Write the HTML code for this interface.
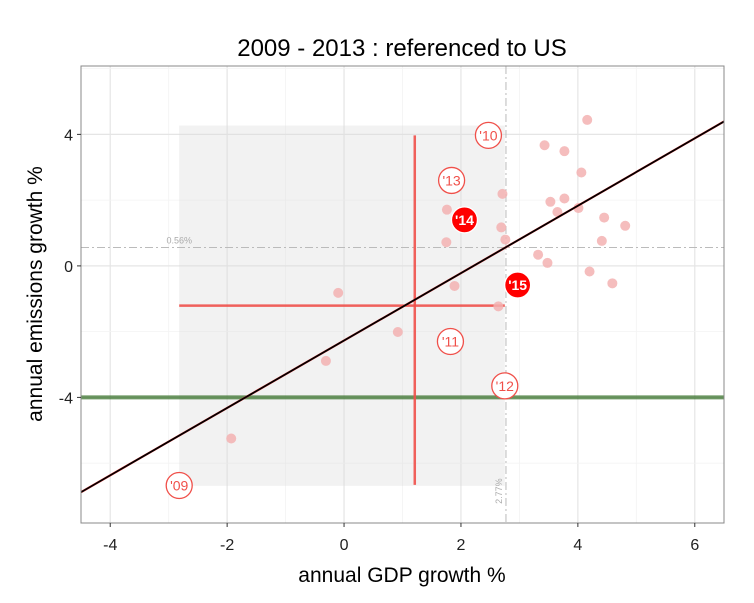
<!DOCTYPE html>
<html><head><meta charset="utf-8"><style>
body{margin:0;background:#fff}
svg{display:block;font-family:"Liberation Sans",sans-serif}
</style></head><body>
<svg id="c" width="754" height="603"></svg>
<script>
const xTicks=[-4,-2,0,2,4,6];
const yTicks=[4,0,-4];
const ptsX=[3.43,3.77,4.16,4.06,3.53,3.77,3.65,4.01,4.45,4.81,4.41,3.32,3.48,4.20,4.59,1.76,1.75,2.71,2.69,2.76,1.89,2.64,-0.10,0.92,-0.31,-1.93];
const ptsY=[3.67,3.49,4.44,2.84,1.95,2.05,1.64,1.76,1.47,1.22,0.76,0.34,0.09,-0.17,-0.53,1.71,0.72,2.19,1.17,0.80,-0.61,-1.23,-0.82,-2.01,-2.89,-5.25];
const yearLabels=["'09","'10","'11","'12","'13","'14","'15"];
const yearX=[-2.82,2.47,1.82,2.75,1.84,2.06,2.97];
const yearY=[-6.68,3.97,-2.30,-3.65,2.60,1.40,-0.58];
const yearFilled=[false,false,false,false,false,true,true];
const rangeX=[-2.82,2.75];
const rangeY=[-6.69,4.27];
const meanX=[1.21];
const meanY=[-1.21];
const crossY=[-6.66,3.97];
const targetY=[-4];
const refX=[2.77];
const refY=[0.56];
const reg=[1.025,-2.27];
const X0=-4.5,X1=6.5,Y0=-7.82,Y1=6.08;
const L=81,R=724,T=66,B=523;
const sx=v=>L+(v-X0)/(X1-X0)*(R-L);
const sy=v=>B-(v-Y0)/(Y1-Y0)*(B-T);
const svg=document.getElementById('c');
const NS='http://www.w3.org/2000/svg';
function mk(t,a,p){const e=document.createElementNS(NS,t);for(const k in a)e.setAttribute(k,a[k]);(p||svg).appendChild(e);return e;}
let e;
for(let v=-4;v<=6;v++){e=mk('line',{x1:sx(v),x2:sx(v),y1:T,y2:B,stroke:v%2==0?'#e5e5e5':'#f3f3f3','stroke-width':v%2==0?1.2:0.8});

}
for(let v=-6;v<=6;v+=2){e=mk('line',{x1:L,x2:R,y1:sy(v),y2:sy(v),stroke:v%4==0?'#e5e5e5':'#f3f3f3','stroke-width':v%4==0?1.2:0.8});

}
e=mk('rect',{x:sx(rangeX[0]),y:sy(rangeY[1]),width:sx(rangeX[1])-sx(rangeX[0]),height:sy(rangeY[0])-sy(rangeY[1]),fill:'#d9d9d9','fill-opacity':0.35});


e=mk('line',{x1:L,x2:R,y1:sy(refY[0]),y2:sy(refY[0]),stroke:'#bbb','stroke-dasharray':'8,3,2,3'});


e=mk('line',{x1:sx(refX[0]),x2:sx(refX[0]),y1:T,y2:B,stroke:'#bbb','stroke-dasharray':'8,3,2,3'});


e=mk('text',{x:sx(-2.82),y:sy(refY[0])-4,'font-size':9,fill:'#aaa','text-anchor':'middle'});e.textContent=refY[0]+'%';


e=mk('text',{x:0,y:0,'font-size':9,fill:'#aaa','text-anchor':'middle',transform:`translate(${sx(refX[0])-4},${sy(-6.85)}) rotate(-90)`});e.textContent=refX[0]+'%';


e=mk('line',{x1:L,x2:R,y1:sy(targetY[0]),y2:sy(targetY[0]),stroke:'#2e6b1f','stroke-opacity':0.7,'stroke-width':4});


e=mk('line',{x1:sx(meanX[0]),x2:sx(meanX[0]),y1:sy(crossY[1]),y2:sy(crossY[0]),stroke:'#f0504a','stroke-width':2.5,'stroke-opacity':0.9});


e=mk('line',{x1:sx(rangeX[0]),x2:sx(rangeX[1]),y1:sy(meanY[0]),y2:sy(meanY[0]),stroke:'#f0504a','stroke-width':2.5,'stroke-opacity':0.9});


for(let i=0;i<ptsX.length;i++){e=mk('circle',{cx:sx(ptsX[i]),cy:sy(ptsY[i]),r:5,fill:'#f3b1b1','fill-opacity':0.85});

}
e=mk('line',{x1:sx(X0),y1:sy(reg[0]*X0+reg[1]),x2:sx(X1),y2:sy(reg[0]*X1+reg[1]),stroke:'#e33','stroke-width':2.2});


e=mk('line',{x1:sx(X0),y1:sy(reg[0]*X0+reg[1]),x2:sx(X1),y2:sy(reg[0]*X1+reg[1]),stroke:'#000','stroke-width':1.7});


for(let i=0;i<yearLabels.length;i++){
 const f=yearFilled[i];
 e=mk('circle',{cx:sx(yearX[i]),cy:sy(yearY[i]),r:13,fill:f?'#f00':'#fff',stroke:f?'#fff':'#f0504a','stroke-width':1.3});
 
 
 e=mk('text',{x:sx(yearX[i]),y:sy(yearY[i])+5,'font-size':14,'font-weight':f?'bold':'normal',fill:f?'#fff':'#f0504a','text-anchor':'middle'});e.textContent=yearLabels[i];
 
 
}
e=mk('rect',{x:L,y:T,width:R-L,height:B-T,fill:'none',stroke:'#888','stroke-width':1});


xTicks.forEach(v=>{e=mk('line',{x1:sx(v),x2:sx(v),y1:B,y2:B+4,stroke:'#333'});


e=mk('text',{x:sx(v),y:B+27,'font-size':16,fill:'#222','text-anchor':'middle'});e.textContent=v;

});
yTicks.forEach(v=>{e=mk('line',{x1:L-4,x2:L,y1:sy(v),y2:sy(v),stroke:'#333'});


e=mk('text',{x:L-8,y:sy(v)+6,'font-size':16,fill:'#222','text-anchor':'end'});e.textContent=v;

});
e=mk('text',{x:402,y:56,'font-size':24,fill:'#000','text-anchor':'middle'});e.textContent='2009 - 2013 : referenced to US';


e=mk('text',{x:402,y:582,'font-size':21,fill:'#000','text-anchor':'middle'});e.textContent='annual GDP growth %';


e=mk('text',{x:0,y:0,'font-size':21,fill:'#000','text-anchor':'middle',transform:'translate(42,294) rotate(-90)'});e.textContent='annual emissions growth %';


</script>
</body></html>
